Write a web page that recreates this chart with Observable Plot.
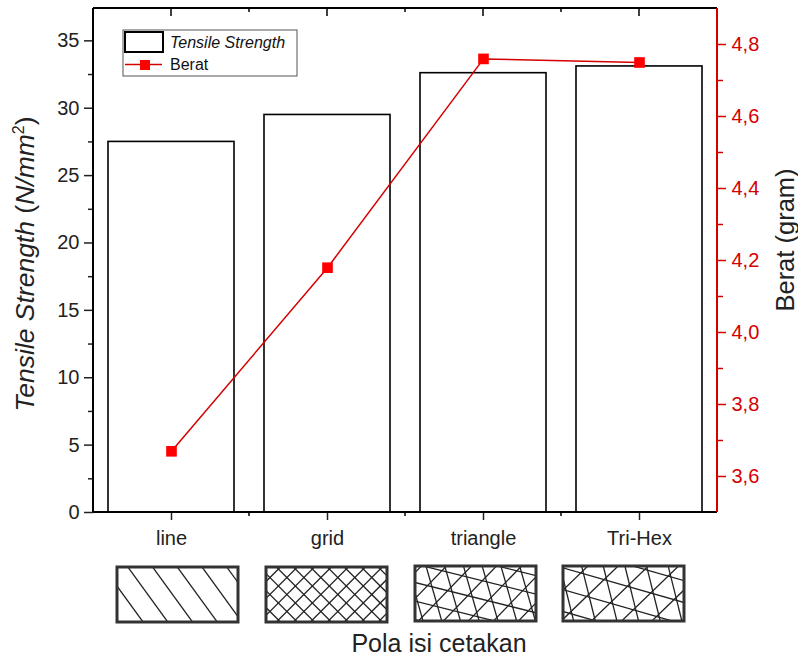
<!DOCTYPE html>
<html><head><meta charset="utf-8">
<script src="https://cdn.jsdelivr.net/npm/d3@7"></script>
<script src="https://cdn.jsdelivr.net/npm/@observablehq/plot@0.6"></script>
<style>body{margin:0;background:#fff}</style>
</head><body><div id="chart"></div>
<script>
// ---- data ----
const patterns = ["line", "grid", "triangle", "Tri-Hex"];
const tensile = [27.5, 29.5, 32.6, 33.1];
const berat = [3.67, 4.18, 4.76, 4.75];
const leftTicks = [0, 5, 10, 15, 20, 25, 30, 35];
const leftMinor = [2.5, 7.5, 12.5, 17.5, 22.5, 27.5, 32.5];
const rightTicks = [3.6, 3.8, 4.0, 4.2, 4.4, 4.6, 4.8];
const rightMinor = [3.7, 3.9, 4.1, 4.3, 4.5, 4.7];
const yLeftDomain = [0, 37.4];
const yRightDomain = [3.5, 4.9];

// ---- helpers ----
const font = "'Liberation Sans', Arial, Helvetica, sans-serif";
const red = "#d40000";
const toLeft = v => (v - yRightDomain[0]) / (yRightDomain[1] - yRightDomain[0]) * yLeftDomain[1];
const fromLeft = v => yRightDomain[0] + v / yLeftDomain[1] * (yRightDomain[1] - yRightDomain[0]);

const barData = patterns.map((p, i) => ({p, v: tensile[i]}));
const lineData = patterns.map((p, i) => ({p, v: toLeft(berat[i])}));

function frameMark(index, scales, values, dim) {
  const g = d3.create("svg:g");
  const x0 = dim.marginLeft, x1 = dim.width - dim.marginRight;
  const y0 = dim.marginTop, y1 = dim.height - dim.marginBottom;
  const n = patterns.length, step = (x1 - x0) / n;
  for (let i = 1; i < n; i++) {
    const x = x0 + i * step;
    g.append("line").attr("x1", x).attr("x2", x).attr("y1", y1).attr("y2", y1 + 4).attr("stroke", "#000").attr("stroke-width", 1.5);
    g.append("line").attr("x1", x).attr("x2", x).attr("y1", y0).attr("y2", y0 + 4).attr("stroke", "#000").attr("stroke-width", 1.5);
  }
  for (let i = 0; i < n; i++) {
    const x = x0 + (i + 0.5) * step;
    g.append("line").attr("x1", x).attr("x2", x).attr("y1", y0).attr("y2", y0 + 8).attr("stroke", "#000").attr("stroke-width", 1.5);
  }
  const ln = (a, b, c, d, col) => g.append("line").attr("x1", a).attr("y1", b).attr("x2", c).attr("y2", d)
    .attr("stroke", col).attr("stroke-width", 2);
  ln(x0, y0, x1, y0, "#000");
  ln(x0, y0, x0, y1, "#000");
  ln(x0, y1, x1, y1, "#000");
  ln(x1, y0, x1, y1, red);
  return g.node();
}

function legendMark(index, scales, values, dim) {
  const g = d3.create("svg:g").attr("font-family", font).attr("text-anchor", "start").attr("fill", "#111");
  g.append("rect").attr("x", 123).attr("y", 30).attr("width", 174).attr("height", 46)
    .attr("fill", "#fff").attr("stroke", "#555").attr("stroke-width", 1);
  g.append("rect").attr("x", 125).attr("y", 32).attr("width", 38).attr("height", 20)
    .attr("fill", "#fff").attr("stroke", "#000").attr("stroke-width", 2);
  g.append("text").attr("x", 170).attr("y", 48).attr("font-size", 16).attr("font-style", "italic").text("Tensile Strength");
  g.append("line").attr("x1", 125).attr("x2", 162).attr("y1", 64.5).attr("y2", 64.5).attr("stroke", red).attr("stroke-width", 1.5);
  g.append("rect").attr("x", 140).attr("y", 60).attr("width", 10).attr("height", 10).attr("fill", "#f00");
  g.append("text").attr("x", 170).attr("y", 70).attr("font-size", 16).text("Berat");
  return g.node();
}

function titlesMark(index, scales, values, dim) {
  const g = d3.create("svg:g").attr("font-family", font).attr("fill", "#222");
  const t = g.append("text").attr("transform", `translate(34,264) rotate(-90)`)
    .attr("text-anchor", "middle").attr("font-size", 26.5);
  t.append("tspan").attr("font-style", "italic").text("Tensile Strength");
  t.append("tspan").text(" (");
  t.append("tspan").attr("font-style", "italic").text("N/mm");
  t.append("tspan").attr("font-size", 16).attr("dy", -10).text("2");
  t.append("tspan").attr("dy", 10).text(")");
  g.append("text").attr("transform", `translate(794,240) rotate(-90)`)
    .attr("text-anchor", "middle").attr("font-size", 25.5).text("Berat (gram)");
  g.append("text").attr("x", 439).attr("y", 652).attr("text-anchor", "middle").attr("font-size", 25).text("Pola isi cetakan");
  return g.node();
}

function patternMark(index, scales, values, dim) {
  const g = d3.create("svg:g");
  const boxes = [
    {x: 117, y: 567, w: 121, h: 55, fam: [[54, 20, 0]]},
    {x: 266, y: 567, w: 121, h: 55, fam: [[45, 12, 0], [135, 12, 0]]},
    {x: 415, y: 566, w: 121, h: 55, fam: [[14, 18, 0], [74, 18, 0], [134, 18, 0]]},
    {x: 563, y: 566, w: 121, h: 55, fam: [[16, 21, 0], [76, 21, 0], [136, 21, 10.5]]}
  ];
  boxes.forEach((b, bi) => {
    const id = "clipPat" + bi;
    g.append("clipPath").attr("id", id).append("rect").attr("x", b.x).attr("y", b.y).attr("width", b.w).attr("height", b.h);
    const gg = g.append("g").attr("clip-path", `url(#${id})`);
    const cx = b.x + b.w / 2, cy = b.y + b.h / 2, L = b.w + b.h;
    b.fam.forEach(([ang, sp, off]) => {
      const a = ang * Math.PI / 180;
      const dx = Math.cos(a), dy = Math.sin(a), nx = -dy, ny = dx;
      for (let c = -L + off; c <= L; c += sp) {
        const px = cx + c * nx, py = cy + c * ny;
        gg.append("line").attr("x1", px - L * dx).attr("y1", py - L * dy).attr("x2", px + L * dx).attr("y2", py + L * dy)
          .attr("stroke", "#222").attr("stroke-width", 1.3);
      }
    });
    g.append("rect").attr("x", b.x).attr("y", b.y).attr("width", b.w).attr("height", b.h)
      .attr("fill", "none").attr("stroke", "#333").attr("stroke-width", 3);
  });
  return g.node();
}

const chart = Plot.plot({
  width: 798,
  height: 659,
  marginTop: 8,
  marginRight: 81,
  marginBottom: 147,
  marginLeft: 93,
  style: {fontFamily: font, fontSize: "20px", background: "#fff", color: "#222"},
  x: {type: "band", domain: patterns, padding: 0},
  y: {domain: yLeftDomain},
  marks: [
    Plot.barY(barData, {x: "p", y: "v", fill: "#fff", stroke: "#000", strokeWidth: 1.6, insetLeft: 15, insetRight: 15}),
    Plot.line(lineData, {x: "p", y: "v", stroke: red, strokeWidth: 1.5}),
    Plot.dot(lineData, {x: "p", y: "v", symbol: "square", r: 6, fill: "#f00", stroke: null}),
    Plot.axisX({anchor: "bottom", tickSize: 8, tickPadding: 10, fontSize: 20, label: null, strokeWidth: 1.5}),
    Plot.axisY(leftTicks, {anchor: "left", tickSize: 9, tickPadding: 5, fontSize: 20, label: null, strokeWidth: 1.5}),
    Plot.axisY(leftMinor, {anchor: "left", tickSize: 5, tickFormat: () => "", label: null, strokeWidth: 1.5}),
    Plot.axisY(rightTicks.map(toLeft), {anchor: "right", tickSize: 8, tickPadding: 6, fontSize: 20, label: null, color: red, strokeWidth: 1.5,
      tickFormat: d => fromLeft(d).toFixed(1).replace(".", ",")}),
    Plot.axisY(rightMinor.map(toLeft), {anchor: "right", tickSize: 5, tickFormat: () => "", label: null, color: red, strokeWidth: 1.5}),
    frameMark,
    legendMark,
    titlesMark,
    patternMark
  ]
});
document.getElementById("chart").appendChild(chart);
</script>
</body></html>
